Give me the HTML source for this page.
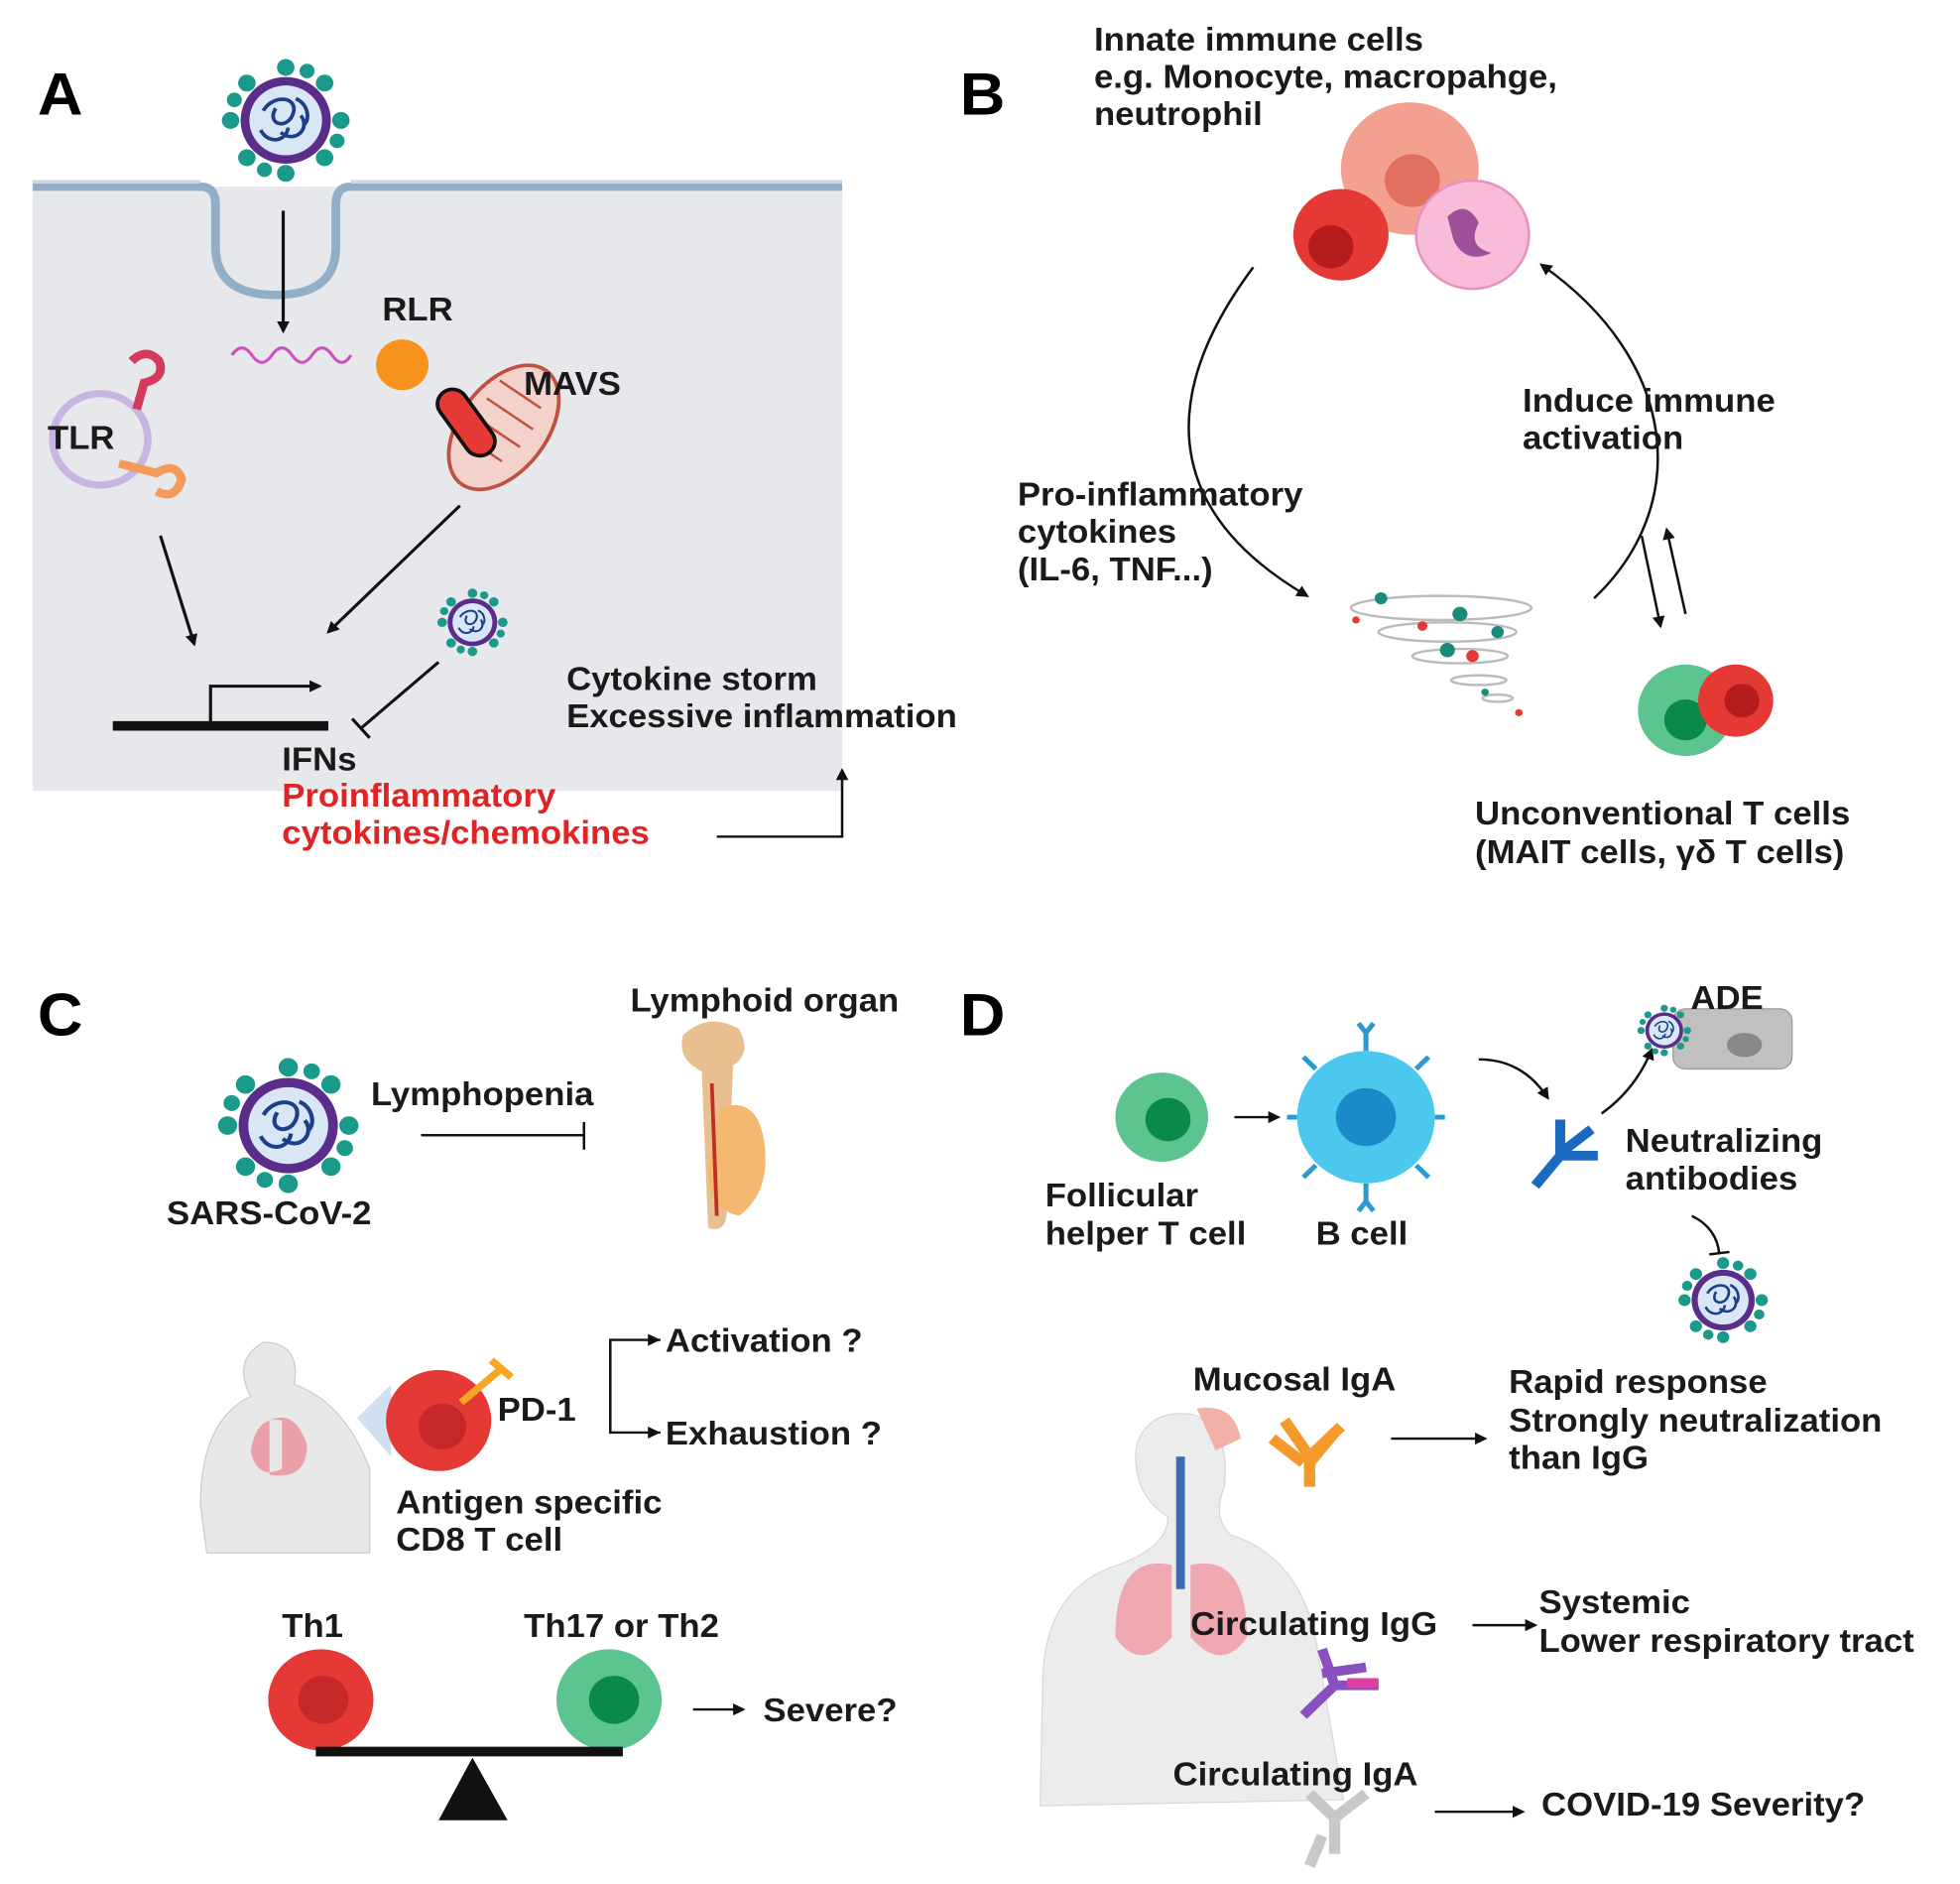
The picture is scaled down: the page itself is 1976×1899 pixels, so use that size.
<!DOCTYPE html>
<html><head><meta charset="utf-8"><style>
html,body{margin:0;padding:0;background:#fff}
svg{display:block}
text{font-family:"Liberation Sans",sans-serif;font-weight:bold;font-size:27.5px;fill:#1a1a1a}
.big{font-size:50px;fill:#000}
.red{fill:#e02424}
</style></head><body>
<svg width="1976" height="1899" viewBox="0 0 1564 1565" preserveAspectRatio="none" xmlns="http://www.w3.org/2000/svg">
<defs>
<marker id="ar" markerWidth="10" markerHeight="10" refX="8" refY="5" orient="auto" markerUnits="userSpaceOnUse"><path d="M0,0 L10,5 L0,10 Z" fill="#111"/></marker>
<g id="virus">
 <g fill="#1a9a8a">
  <circle cx="0" cy="-44" r="7"/><circle cx="0" cy="44" r="7"/><circle cx="-44" cy="0" r="7"/><circle cx="44" cy="0" r="7"/>
  <circle cx="31" cy="31" r="7"/><circle cx="-31" cy="31" r="7"/><circle cx="31" cy="-31" r="7"/><circle cx="-31" cy="-31" r="7"/>
  <circle cx="17" cy="-41" r="6"/><circle cx="-17" cy="41" r="6"/><circle cx="41" cy="17" r="6"/><circle cx="-41" cy="-17" r="6"/>
 </g>
 <circle r="36" fill="#5b2d8a"/>
 <circle r="29" fill="#d8e6f6"/>
 <path d="M-18,-8 C-10,-22 10,-20 6,-6 C2,8 -16,4 -8,-10 M-4,10 C8,20 20,6 12,-4 M-20,8 C-14,20 0,18 2,6 M8,-18 C18,-14 20,0 14,4" stroke="#1d3f8a" stroke-width="3" fill="none"/>
</g>
</defs>

<!-- Panel A -->
<text class="big" x="30" y="95">A</text>
<rect x="26" y="155" width="646" height="502" fill="#e6e8ec"/>
<path d="M26,155 L160,155 Q172,155 172,170 L172,205 Q172,245 220,245 Q268,245 268,205 L268,170 Q268,155 280,155 L672,155" stroke="#93afc8" stroke-width="7" fill="none"/>
<path d="M26,151 L160,151 M280,151 L672,151" stroke="#c9d8e6" stroke-width="3"/>
<use href="#virus" transform="translate(228,100)"/>
<line x1="226" y1="175" x2="226" y2="275" stroke="#111" stroke-width="2.5" marker-end="url(#ar)"/>
<path d="M185,295 q8,-12 16,0 t16,0 t16,0 t16,0 t16,0 t15,0" stroke="#d050c0" stroke-width="2.5" fill="none"/>
<text x="305" y="266">RLR</text>
<circle cx="321" cy="303" r="21" fill="#f7931e"/>
<g transform="translate(402,355) rotate(35)">
 <ellipse rx="35" ry="58" fill="#f3d2cc" stroke="#c05040" stroke-width="3"/>
 <path d="M-25,-30 L15,-30 M-25,-12 L20,-12 M-25,6 L20,6 M-25,24 L15,24" stroke="#c05040" stroke-width="2"/>
</g>
<rect x="360" y="320" width="24" height="62" rx="12" fill="#e53935" stroke="#111" stroke-width="3" transform="rotate(-35 372 351)"/>
<text x="418" y="328">MAVS</text>
<circle cx="80" cy="365" r="38" fill="none" stroke="#c8b6e0" stroke-width="6"/>
<path d="M105,300 q12,-12 22,0 q5,14 -12,18 l-6,22" stroke="#d63a5a" stroke-width="7" fill="none"/>
<path d="M95,385 l30,8 q15,-10 20,5 q-5,18 -20,10" stroke="#f59a5a" stroke-width="7" fill="none"/>
<text x="38" y="373">TLR</text>
<line x1="128" y1="445" x2="155" y2="535" stroke="#111" stroke-width="2.5" marker-end="url(#ar)"/>
<line x1="367" y1="420" x2="262" y2="525" stroke="#111" stroke-width="2.5" marker-end="url(#ar)"/>
<use href="#virus" transform="translate(377,517) scale(0.55)"/>
<line x1="350" y1="550" x2="288" y2="605" stroke="#111" stroke-width="2.5"/>
<line x1="281" y1="597" x2="295" y2="613" stroke="#111" stroke-width="2.5"/>
<line x1="90" y1="603" x2="262" y2="603" stroke="#111" stroke-width="8"/>
<path d="M168,600 L168,570 L255,570" stroke="#111" stroke-width="2.5" fill="none" marker-end="url(#ar)"/>
<text x="225" y="640">IFNs</text>
<text class="red" x="225" y="670">Proinflammatory</text>
<text class="red" x="225" y="701">cytokines/chemokines</text>
<text x="452" y="573">Cytokine storm</text>
<text x="452" y="604">Excessive inflammation</text>
<path d="M572,695 L672,695 L672,640" stroke="#111" stroke-width="2" fill="none" marker-end="url(#ar)"/>

<!-- Panel B -->
<text class="big" x="766" y="95">B</text>
<text x="873" y="42">Innate immune cells</text>
<text x="873" y="73">e.g. Monocyte, macropahge,</text>
<text x="873" y="104">neutrophil</text>
<circle cx="1125" cy="140" r="55" fill="#f4a090"/>
<circle cx="1127" cy="150" r="22" fill="#e27060"/>
<circle cx="1070" cy="195" r="38" fill="#e53935"/>
<circle cx="1062" cy="205" r="18" fill="#b71c1c"/>
<circle cx="1175" cy="195" r="45" fill="#f8bcd8" stroke="#e890c0" stroke-width="2"/>
<path d="M1155,180 q15,-15 25,5 q-10,20 10,25 q-20,10 -30,-10z" fill="#a0509a"/>
<path d="M1000,222 C930,320 920,420 1043,495" stroke="#111" stroke-width="2" fill="none" marker-end="url(#ar)"/>
<path d="M1272,497 C1350,420 1340,300 1230,220" stroke="#111" stroke-width="2" fill="none" marker-end="url(#ar)"/>
<text x="1215" y="342">Induce immune</text>
<text x="1215" y="373">activation</text>
<text x="812" y="420">Pro-inflammatory</text>
<text x="812" y="451">cytokines</text>
<text x="812" y="482">(IL-6, TNF...)</text>
<g fill="none" stroke="#bbb" stroke-width="2">
 <ellipse cx="1150" cy="505" rx="72" ry="10"/><ellipse cx="1155" cy="525" rx="55" ry="8"/>
 <ellipse cx="1165" cy="545" rx="38" ry="6"/><ellipse cx="1180" cy="565" rx="22" ry="4"/>
 <ellipse cx="1195" cy="580" rx="12" ry="3"/>
</g>
<g fill="#1a8a7a"><circle cx="1102" cy="497" r="5"/><circle cx="1165" cy="510" r="6"/><circle cx="1195" cy="525" r="5"/><circle cx="1155" cy="540" r="6"/><circle cx="1185" cy="575" r="3"/></g>
<g fill="#e53935"><circle cx="1082" cy="515" r="3"/><circle cx="1135" cy="520" r="4"/><circle cx="1175" cy="545" r="5"/><circle cx="1212" cy="592" r="3"/></g>
<line x1="1310" y1="445" x2="1325" y2="520" stroke="#111" stroke-width="2" marker-end="url(#ar)"/>
<line x1="1345" y1="510" x2="1330" y2="440" stroke="#111" stroke-width="2" marker-end="url(#ar)"/>
<circle cx="1345" cy="590" r="38" fill="#5cc48e"/>
<circle cx="1345" cy="598" r="17" fill="#0a8a4a"/>
<circle cx="1385" cy="582" r="30" fill="#e53935"/>
<circle cx="1390" cy="582" r="14" fill="#b71c1c"/>
<text x="1177" y="685">Unconventional T cells</text>
<text x="1177" y="717">(MAIT cells, γδ T cells)</text>

<!-- Panel C -->
<text class="big" x="30" y="860">C</text>
<use href="#virus" transform="translate(230,935) scale(1.1)"/>
<text x="296" y="918">Lymphopenia</text>
<line x1="336" y1="943" x2="466" y2="943" stroke="#111" stroke-width="2"/>
<line x1="466" y1="932" x2="466" y2="955" stroke="#111" stroke-width="2"/>
<text x="503" y="840">Lymphoid organ</text>
<path d="M545,860 q20,-20 45,-5 q10,20 -5,30 l-5,120 q0,20 -15,15 l-5,-130 q-20,-10 -15,-30z" fill="#e8c090"/>
<path d="M575,920 q30,-10 35,30 q5,40 -20,60 q-25,-5 -25,-40z" fill="#f5b870"/>
<line x1="568" y1="900" x2="572" y2="1010" stroke="#c03020" stroke-width="3"/>
<text x="133" y="1017">SARS-CoV-2</text>
<path d="M160,1250 q0,-70 40,-90 q-15,-30 10,-45 q30,0 25,35 q40,15 60,70 l0,70 l-130,0z" fill="#e8e8e8" stroke="#ccc"/>
<path d="M215,1180 q20,-10 30,20 q0,30 -30,25z M225,1180 q-20,-5 -25,25 q5,25 25,15z" fill="#eaa0a8"/>
<path d="M285,1178 L312,1150 L312,1210 Z" fill="#cfe0f0"/>
<circle cx="350" cy="1180" r="42" fill="#e53935"/>
<circle cx="353" cy="1185" r="19" fill="#c62828"/>
<path d="M368,1165 l32,-28 M392,1130 l16,14" stroke="#f5a623" stroke-width="6"/>
<text x="397" y="1180">PD-1</text>
<path d="M527,1113 L487,1113 L487,1190 L527,1190" stroke="#111" stroke-width="2" fill="none"/>
<path d="M517,1108 L527,1113 L517,1118Z M517,1185 L527,1190 L517,1195Z" fill="#111"/>
<text x="531" y="1123">Activation ?</text>
<text x="531" y="1200">Exhaustion ?</text>
<text x="316" y="1257">Antigen specific</text>
<text x="316" y="1288">CD8 T cell</text>
<text x="225" y="1360">Th1</text>
<text x="418" y="1360">Th17 or Th2</text>
<circle cx="256" cy="1412" r="42" fill="#e53935"/>
<circle cx="258" cy="1412" r="20" fill="#c62828"/>
<circle cx="486" cy="1412" r="42" fill="#5cc48e"/>
<circle cx="490" cy="1412" r="20" fill="#0a8a4a"/>
<line x1="252" y1="1455" x2="497" y2="1455" stroke="#111" stroke-width="8"/>
<path d="M377,1460 L350,1512 L405,1512Z" fill="#111"/>
<line x1="553" y1="1420" x2="593" y2="1420" stroke="#111" stroke-width="2" marker-end="url(#ar)"/>
<text x="609" y="1430">Severe?</text>

<!-- Panel D -->
<text class="big" x="766" y="860">D</text>
<circle cx="927" cy="928" r="37" fill="#5cc48e"/>
<circle cx="932" cy="930" r="18" fill="#0a8a4a"/>
<line x1="985" y1="928" x2="1020" y2="928" stroke="#111" stroke-width="2" marker-end="url(#ar)"/>
<g stroke="#2a9ad0" stroke-width="4" fill="none">
 <path d="M1090,873 v-15 m-6,-8 l6,8 l6,-8 M1090,983 v15 m-6,8 l6,-8 l6,8 M1035,928 h-8 M1145,928 h8 M1050,888 l-10,-10 M1130,888 l10,-10 M1050,968 l-10,10 M1130,968 l10,10"/>
</g>
<circle cx="1090" cy="928" r="55" fill="#4cc8ee"/>
<circle cx="1090" cy="928" r="24" fill="#1a8ac8"/>
<text x="834" y="1002">Follicular</text>
<text x="834" y="1034">helper T cell</text>
<text x="1050" y="1034">B cell</text>
<path d="M1180,880 Q1215,880 1235,912" stroke="#111" stroke-width="2" fill="none" marker-end="url(#ar)"/>
<path d="M1225,985 l20,-25 v-30 m0,30 l30,0 m-30,-2 l25,-20" stroke="#1a6ac0" stroke-width="8" fill="none"/>
<text x="1297" y="957">Neutralizing</text>
<text x="1297" y="988">antibodies</text>
<path d="M1278,925 Q1305,905 1318,872" stroke="#111" stroke-width="2" fill="none" marker-end="url(#ar)"/>
<rect x="1335" y="838" width="95" height="50" rx="10" fill="#c0c0c0" stroke="#999"/>
<ellipse cx="1392" cy="868" rx="14" ry="10" fill="#888"/>
<use href="#virus" transform="translate(1328,856) scale(0.42)"/>
<text x="1349" y="838">ADE</text>
<path d="M1350,1010 Q1370,1020 1372,1042" stroke="#111" stroke-width="2" fill="none"/>
<line x1="1364" y1="1042" x2="1380" y2="1040" stroke="#111" stroke-width="2"/>
<use href="#virus" transform="translate(1375,1080) scale(0.7)"/>
<text x="952" y="1155">Mucosal IgA</text>
<path d="M830,1500 L832,1400 q0,-80 60,-100 q40,-15 40,-40 q-30,-20 -25,-60 q10,-30 45,-25 q30,10 25,60 q-10,25 5,40 q60,20 70,100 l20,120z" fill="#ececec" stroke="#d8d8d8"/>
<path d="M955,1170 q30,-5 35,25 l-20,10z" fill="#f3b0a8"/>
<line x1="942" y1="1210" x2="942" y2="1320" stroke="#3a6ab0" stroke-width="7"/>
<path d="M935,1300 q-45,-10 -45,60 q20,30 45,0z M950,1300 q45,-10 45,60 q-20,30 -45,0z" fill="#f0a8b0"/>
<path d="M1025,1180 l20,30 v25 m0,-25 l25,-25 M1015,1195 l25,20 M1065,1190 l-20,25" stroke="#f59a2a" stroke-width="9" fill="none"/>
<line x1="1110" y1="1195" x2="1185" y2="1195" stroke="#111" stroke-width="2" marker-end="url(#ar)"/>
<text x="1204" y="1157">Rapid response</text>
<text x="1204" y="1189">Strongly neutralization</text>
<text x="1204" y="1220">than IgG</text>
<text x="950" y="1358">Circulating IgG</text>
<line x1="1175" y1="1350" x2="1225" y2="1350" stroke="#111" stroke-width="2" marker-end="url(#ar)"/>
<text x="1228" y="1340">Systemic</text>
<text x="1228" y="1372">Lower respiratory tract</text>
<path d="M1055,1370 l10,30 l-25,25 m25,-25 l35,0 m-45,-10 l35,-5" stroke="#8a50c0" stroke-width="8" fill="none"/>
<path d="M1075,1398 h25" stroke="#e040a0" stroke-width="8"/>
<text x="936" y="1483">Circulating IgA</text>
<path d="M1045,1490 l20,20 v30 m0,-30 l25,-20 M1055,1525 l-10,25" stroke="#c8c8c8" stroke-width="9" fill="none"/>
<line x1="1145" y1="1505" x2="1215" y2="1505" stroke="#111" stroke-width="2" marker-end="url(#ar)"/>
<text x="1230" y="1508">COVID-19 Severity?</text>
</svg>
</body></html>
